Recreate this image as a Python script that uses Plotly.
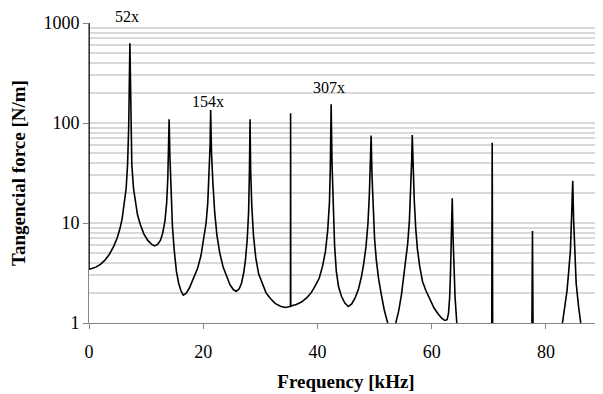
import math
import plotly.graph_objects as go

# Frequency [kHz] and Tangencial force [N/m]
freq = [0, 0, 0.5, 1.2, 2.0, 2.8, 3.6, 4.3, 4.9, 5.4, 5.8, 6.2, 6.5, 6.75, 6.95, 7.16,
        7.35, 7.5, 7.8, 8.1, 8.5, 9.0, 9.6, 10.3, 11.0, 11.5, 12.0, 12.5, 12.9, 13.3, 13.6, 13.8, 13.95, 14.03,
        14.15, 14.35, 14.6, 14.9, 15.3, 15.7, 16.1, 16.5, 17.0, 17.6, 18.3, 19.0, 19.6, 20.1, 20.5, 20.8, 21.05, 21.2, 21.3,
        21.45, 21.7, 22.0, 22.4, 22.9, 23.5, 24.1, 24.7, 25.3, 25.8, 26.3, 26.7, 27.1, 27.4, 27.7, 27.95, 28.1, 28.2,
        28.3, 28.5, 28.8, 29.2, 29.7, 30.3, 31.0, 31.8, 32.6, 33.5, 34.4, 35.2, 35.27, 35.3, 35.33, 35.4,
        36.3, 37.2, 38.1, 38.9, 39.6, 40.3, 40.9, 41.4, 41.8, 42.1, 42.25, 42.4,
        42.55, 42.75, 43.0, 43.3, 43.7, 44.2, 44.8, 45.4, 46.0, 46.6, 47.2, 47.7, 48.1, 48.5, 48.85, 49.1, 49.25, 49.4,
        49.55, 49.75, 50.0, 50.3, 50.7, 51.2, 51.7, 52.3, 52.7, 53.3, 53.7, 54.2, 54.7, 55.1, 55.5, 55.8, 56.1, 56.35,
        56.5, 56.6,
        56.75, 56.95, 57.2, 57.5, 57.9, 58.4, 59.0, 59.7, 60.4, 61.1, 61.8, 62.3, 62.7, 62.95, 63.15, 63.3, 63.45, 63.6,
        63.75, 63.9, 64.1, 64.4, 64.8,
        70.5, 70.6, 70.7,
        77.5, 77.65, 77.8,
        82.5, 82.9, 83.3, 83.7, 84.0, 84.3, 84.5, 84.7, 84.85, 85.0, 85.3, 85.7, 86.1, 86.5]
force = [2000, 3.45, 3.5, 3.62, 3.85, 4.25, 4.9, 5.8, 7.0, 8.7, 11, 15.5, 22, 38, 90, 626,
         80, 38, 22, 16, 12, 9.6, 7.8, 6.7, 6.1, 5.9, 6.1, 6.7, 7.9, 10.5, 16, 28, 60, 109,
         50, 20, 9.5, 5.5, 3.3, 2.5, 2.1, 1.9, 1.98, 2.25, 2.8, 3.5, 4.7, 6.8, 10, 16, 30, 60, 135,
         50, 25, 13, 7.5, 5, 3.6, 2.9, 2.4, 2.15, 2.08, 2.2, 2.5, 3.2, 4.3, 6.8, 13, 35, 109,
         35, 15, 7.5, 4.5, 3.1, 2.5, 2.0, 1.75, 1.57, 1.47, 1.43, 1.46, 1.46, 125, 1.47, 1.48,
         1.53, 1.62, 1.78, 2.0, 2.35, 2.8, 3.7, 5.2, 8.5, 16, 35, 154,
         40, 14, 6, 3.3, 2.3, 1.85, 1.58, 1.46, 1.55, 1.78, 2.2, 2.9, 3.9, 5.8, 10, 20, 38, 75,
         30, 13, 7, 4.3, 2.8, 1.9, 1.35, 1.0, 0.8, 0.8, 1.0, 1.3, 1.9, 2.8, 4.1, 6.2, 10.5, 22,
         42, 76,
         35, 17, 9, 5.5, 3.7, 2.6, 2.1, 1.7, 1.42, 1.24, 1.11, 1.06, 1.08, 1.25, 1.8, 3.2, 7, 17.7,
         7, 3.2, 1.8, 1.0, 0.3,
         0.3, 63.5, 0.3,
         0.3, 8.3, 0.3,
         0.4, 1.0, 1.45, 2.1, 3.3, 5.4, 11.6, 26.5, 11, 6, 2.5, 1.5, 1.0, 0.4]

x_ticks = [0, 20, 40, 60, 80]
y_ticks = [1, 10, 100, 1000]
y_minor = [m * 10 ** e for e in range(3) for m in range(2, 10)]

labels = ["52x", "154x", "307x"]
label_x = [6.6, 20.8, 42.1]
label_y = [1170, 163, 229]

FONT = "Liberation Serif, Times New Roman, serif"
AXIS_GRAY = "#868686"
GRID = "#d9d9d9"

fig = go.Figure()
fig.add_trace(go.Scatter(x=freq, y=force, mode="lines",
                         line=dict(color="black", width=1.6), hoverinfo="skip"))

for t, lx, ly in zip(labels, label_x, label_y):
    if ly > 1000:
        # above the plotting area: place in paper units along y
        fig.add_annotation(x=lx, xref="x", yref="paper", y=1 + (math.log10(ly) - 3) / 3,
                           xanchor="center", yanchor="middle",
                           text=t, showarrow=False,
                           font=dict(family=FONT, size=16, color="black"))
    else:
        fig.add_annotation(x=lx, y=math.log10(ly), text=t, showarrow=False,
                           xanchor="center", yanchor="middle",
                           font=dict(family=FONT, size=16, color="black"))

# the page body keeps an 8px browser margin, so the figure is sized to fit the window
fig.update_layout(
    width=595, height=386,
    margin=dict(l=81, r=0, t=15, b=71),
    paper_bgcolor="white", plot_bgcolor="white",
    showlegend=False,
    font=dict(family=FONT, size=18, color="black"),
    xaxis=dict(range=[0, 90], tickvals=x_ticks, showgrid=False, zeroline=False,
               showline=True, linecolor=AXIS_GRAY, linewidth=1,
               ticks="outside", ticklen=5, tickcolor=AXIS_GRAY,
               ticklabelstandoff=7, automargin=False,
               title=dict(text="<b>Frequency [kHz]</b>", font=dict(family=FONT, size=19), standoff=14)),
    yaxis=dict(type="log", range=[0, 3], tickvals=y_ticks, ticktext=[str(v) for v in y_ticks],
               showgrid=True, gridcolor=GRID, gridwidth=1.5, zeroline=False,
               showline=True, linecolor=AXIS_GRAY, linewidth=1,
               ticks="outside", ticklen=5, tickcolor=AXIS_GRAY, automargin=False,
               minor=dict(tickvals=y_minor, showgrid=True, gridcolor=GRID, gridwidth=1.5, ticks=""),
               title=dict(text="<b>Tangencial force [N/m]</b>", font=dict(family=FONT, size=19), standoff=16)),
)

fig.write_html("out.html")
